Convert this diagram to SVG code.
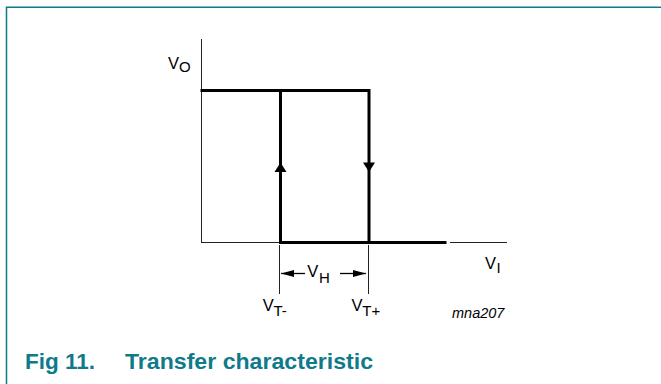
<svg xmlns="http://www.w3.org/2000/svg" width="661" height="384" viewBox="0 0 661 384">
  <style>
    .thin { stroke: #222; stroke-width: 1; fill: none; }
    .thick { stroke: #000; stroke-width: 3; fill: none; stroke-linecap: square; }
    .lbl { font-family: "Liberation Sans", Arial, sans-serif; fill: #000; }
    .big { font-size: 16.5px; }
    .sub { font-size: 15px; }
    .cap { font-family: "Liberation Sans", Arial, sans-serif; font-weight: bold; font-size: 22.5px; fill: #0f7a8a; }
  </style>
  <defs>
    <marker id="ah" viewBox="0 0 13 7" refX="13" refY="3.5" markerWidth="13" markerHeight="7" markerUnits="userSpaceOnUse" orient="auto">
      <path d="M0,0 L13,3.5 L0,7 Z" fill="#000"/>
    </marker>
  </defs>
  <rect width="661" height="384" fill="#fff"/>
  <g id="frame">
    <path d="M6.5,384 V7.2 H661" fill="none" stroke="#0f7a8a" stroke-width="1.5"/>
  </g>
  <g id="axes">
    <line class="thin" x1="201.5" y1="39" x2="201.5" y2="243"/>
    <line class="thin" x1="201" y1="242.5" x2="280" y2="242.5"/>
    <line class="thin" x1="450" y1="242.5" x2="507" y2="242.5"/>
  </g>
  <g id="curve">
    <polyline class="thick" points="202,90.5 369,90.5 369,242.5 445,242.5"/>
    <line class="thick" x1="280.5" y1="90.5" x2="280.5" y2="242.5"/>
    <line class="thick" x1="280.5" y1="242.5" x2="369" y2="242.5"/>
    <path d="M280.5,162.5 L286.5,172 L274.5,172 Z" fill="#000"/>
    <path d="M363,162.5 L375,162.5 L369,172 Z" fill="#000"/>
  </g>
  <g id="connectors">
    <line class="thin" x1="279.5" y1="245" x2="279.5" y2="294"/>
    <line class="thin" x1="368.5" y1="245" x2="368.5" y2="294"/>
    <line x1="305" y1="273.5" x2="281" y2="273.5" stroke="#000" stroke-width="1.3" marker-end="url(#ah)"/>
    <line x1="340" y1="273.5" x2="366" y2="273.5" stroke="#000" stroke-width="1.3" marker-end="url(#ah)"/>
  </g>
  <g id="labels">
    <text class="lbl big" x="168" y="69">V<tspan class="sub" x="179" y="71.5">O</tspan></text>
    <text class="lbl big" x="485" y="269.3">V<tspan class="sub" x="496.5" y="273">I</tspan></text>
    <text class="lbl big" x="307.3" y="277">V<tspan class="sub" x="319" y="282.5">H</tspan></text>
    <text class="lbl big" x="262.7" y="310.5">V<tspan class="sub" x="273.5" y="315.5">T-</tspan></text>
    <text class="lbl big" x="351.5" y="310.5">V<tspan class="sub" x="362.3" y="315.5">T+</tspan></text>
    <text class="lbl" font-size="14.5" x="452" y="318" font-style="italic">mna207</text>
  </g>
  <g id="caption">
    <text class="cap" x="25" y="369.3">Fig 11.</text>
    <text class="cap" x="125" y="369.3" textLength="248" lengthAdjust="spacingAndGlyphs">Transfer characteristic</text>
  </g>
</svg>
